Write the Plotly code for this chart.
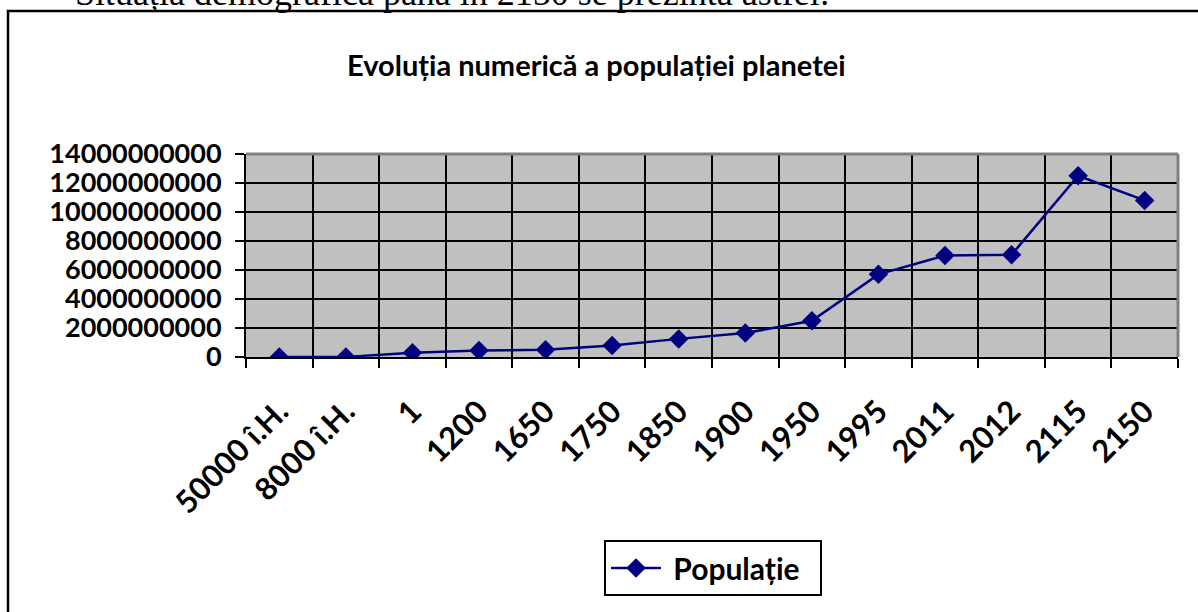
import plotly.graph_objects as go

categories = ["50000 î.H.", "8000 î.H.", "1", "1200", "1650", "1750", "1850",
              "1900", "1950", "1995", "2011", "2012", "2115", "2150"]
population = [1000000, 5000000, 300000000, 450000000, 500000000, 800000000,
              1250000000, 1650000000, 2500000000, 5700000000, 7000000000,
              7050000000, 12500000000, 10800000000]
y_ticks = [0, 2000000000, 4000000000, 6000000000, 8000000000, 10000000000,
           12000000000, 14000000000]
series_name = "Populație"

W, H = 1198, 612
L, R, T, B = 246, 1178, 154, 357  # plot area pixel bounds
pw, ph = R - L, B - T

def px(x):
    return (x - L) / pw

def py(y):
    return (B - y) / ph

fig = go.Figure()
fig.add_trace(go.Scatter(
    x=categories, y=population, mode="lines+markers",
    name="\u00a0" + series_name + "\u00a0\u00a0",
    line=dict(color="#000080", width=2.5),
    marker=dict(symbol="diamond", size=15, color="#000080"),
))

font_main = "Lato, Carlito, Calibri, sans-serif"

fig.update_layout(
    width=W, height=H,
    margin=dict(l=L, r=W - R, t=T, b=H - B, pad=0),
    paper_bgcolor="white", plot_bgcolor="#C0C0C0",
    showlegend=True,
    legend=dict(
        x=px(604), y=py(540), xanchor="left", yanchor="top",
        bgcolor="white", bordercolor="black", borderwidth=2,
        font=dict(family=font_main, size=30, color="black", weight="bold"),
        itemwidth=50,
    ),
    xaxis=dict(
        type="category", tickson="boundaries", ticks="outside", ticklen=9,
        tickwidth=2, tickcolor="black",
        showgrid=True, gridcolor="black", gridwidth=2,
        showline=True, linecolor="black", linewidth=2,
        tickangle=-45, ticklabelstandoff=22,
        tickfont=dict(family=font_main, size=31, color="black", weight="bold"),
        range=[-0.5, len(categories) - 0.5],
    ),
    yaxis=dict(
        range=[0, 14000000000], tickvals=y_ticks, tickformat="d",
        ticks="outside", ticklen=9, tickwidth=2, tickcolor="black",
        showgrid=True, gridcolor="black", gridwidth=2,
        showline=True, linecolor="black", linewidth=2,
        zeroline=False, ticklabelstandoff=8,
        tickfont=dict(family=font_main, size=27, color="black", weight="bold"),
    ),
)

# gray top/right border of plot area
fig.add_shape(type="line", xref="paper", yref="paper", x0=0, x1=1, y0=1, y1=1,
              line=dict(color="#808080", width=3))
fig.add_shape(type="line", xref="paper", yref="paper", x0=1, x1=1, y0=0, y1=1,
              line=dict(color="#808080", width=3))

# outer chart border
fig.add_shape(type="rect", xref="paper", yref="paper",
              x0=px(8), x1=px(1260), y0=py(700), y1=py(11),
              line=dict(color="black", width=2.5), layer="above")

# title
fig.add_annotation(
    text="Evoluția numerică a populației planetei", xref="paper", yref="paper",
    x=px(596), y=py(64), xanchor="center", yanchor="middle", showarrow=False,
    font=dict(family=font_main, size=29, color="black", weight="bold"),
)

# clipped document text above the chart
fig.add_annotation(
    text="Situația demografică până în 2150 se prezintă astfel:",
    xref="paper", yref="paper", x=px(73), y=py(15), xanchor="left",
    yanchor="bottom", showarrow=False,
    font=dict(family="Liberation Serif, Times New Roman, serif", size=36, color="black"),
)

fig.write_html("out.html", config={"displayModeBar": False},
               post_script="document.body.style.margin='0';")
